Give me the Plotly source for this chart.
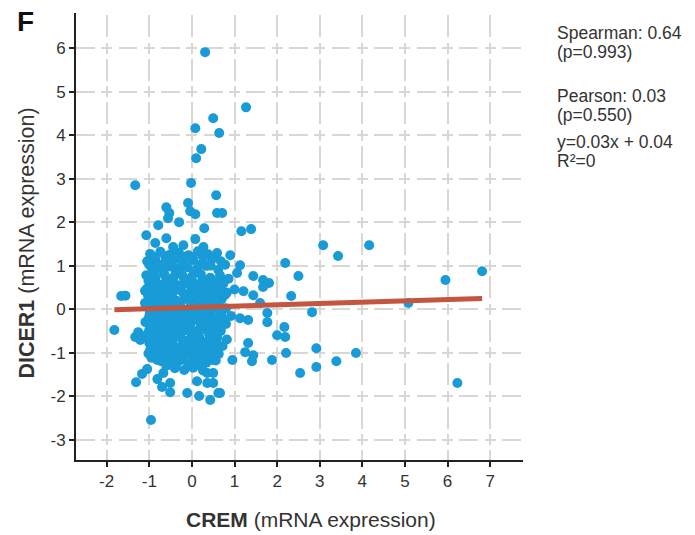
import plotly.graph_objects as go

# ---------------- data ----------------
# dense central cloud
cloud_crem = [
    -0.98, -0.74, -0.52, -0.31, -0.08, 0.14, 0.38,
    -1.05, -0.86, -0.63, -0.41, -0.19, 0.03, 0.26, 0.47, 0.68,
    -0.94, -0.72, -0.53, -0.30, -0.10, 0.12, 0.34, 0.62,
    -1.07, -0.85, -0.64, -0.43, -0.22, 0.00, 0.21, 0.43, 0.66, 0.86,
    -0.97, -0.76, -0.55, -0.33, -0.12, 0.10, 0.31, 0.52, 0.74,
    -1.10, -0.88, -0.66, -0.45, -0.24, -0.03, 0.19, 0.40, 0.60, 0.82, 1.00,
    -1.00, -0.79, -0.57, -0.36, -0.15, 0.07, 0.28, 0.49, 0.70,
    -1.08, -0.89, -0.68, -0.47, -0.26, -0.05, 0.16, 0.37, 0.58, 0.80,
    -0.99, -0.78, -0.57, -0.36, -0.15, 0.06, 0.27, 0.48, 0.69, 0.92,
    -1.09, -0.87, -0.66, -0.45, -0.24, -0.03, 0.18, 0.39, 0.60, 0.80,
    -1.00, -0.79, -0.58, -0.37, -0.16, 0.05, 0.26, 0.47, 0.68,
    -1.07, -0.88, -0.67, -0.46, -0.25, -0.04, 0.17, 0.38, 0.59, 0.82,
    -0.96, -0.76, -0.55, -0.34, -0.13, 0.08, 0.29, 0.50, 0.72,
    -1.02, -0.84, -0.63, -0.42, -0.21, 0.00, 0.21, 0.42, 0.63,
    -0.72, -0.51, -0.30, -0.09, 0.13, 0.34, 0.56,
    -0.40, -0.18, 0.03, 0.26,
    -0.92, -0.60, -0.38, -0.17, 0.05, 0.25,
    -0.83, -0.50, -0.29, -0.07, 0.14, 0.36,
    -0.93, -0.62, -0.40, -0.19, 0.02, 0.23,
    -0.82, -0.51, -0.30, -0.09, 0.12, 0.33,
    -0.93, -0.62, -0.41, -0.20, 0.01, 0.22,
    -0.70, -0.48, -0.27, 0.15,
    -0.88, -0.63, -0.42, -0.20, 0.02, 0.25, 0.52,
    -1.00, -0.80, -0.45, -0.22, 0.20, 0.44, 0.78,
    -1.02, -0.86, -0.44, 0.00, 0.40, 0.62,
    -1.05, -0.66, -0.46, 0.00, 0.26, 0.46, 0.66,
    -1.03, -0.70, -0.18, 0.10, 0.55, 0.78,
    -1.10, -0.72, -0.52, -0.30, 0.30, 0.52, 0.62,
    -0.98, -0.80, -0.35, 0.05, 0.45, 0.66,
    -1.02, -0.65, -0.45, -0.15, 0.30, 0.52, 0.72,
    -0.98, -0.72, -0.30, 0.20, 0.52,
    -1.05, -0.75, -0.50, -0.30, 0.12, 0.40, 0.60,
    -1.00, -0.80, -0.45, 0.05, 0.35, 0.55,
    -0.88, -0.60, -0.05, 0.35, 0.55,
    -0.95, -0.62, -0.40, -0.20, 0.05, 0.28,
    -0.60, -0.38, 0.15,
]
cloud_dicer1 = [
    1.27, 1.32, 1.25, 1.30, 1.24, 1.33, 1.26,
    1.10, 1.15, 1.08, 1.14, 1.09, 1.13, 1.07, 1.15, 1.10,
    0.95, 0.92, 0.98, 0.91, 0.96, 0.93, 0.99, 0.90,
    0.78, 0.74, 0.79, 0.73, 0.77, 0.75, 0.80, 0.72, 0.77, 0.70,
    0.60, 0.56, 0.61, 0.55, 0.59, 0.57, 0.62, 0.55, 0.59,
    0.42, 0.38, 0.43, 0.37, 0.41, 0.39, 0.44, 0.36, 0.41, 0.38, 0.45,
    0.24, 0.20, 0.25, 0.19, 0.23, 0.21, 0.26, 0.18, 0.23,
    0.06, 0.02, 0.07, 0.01, 0.05, 0.03, 0.08, 0.00, 0.05, 0.02,
    -0.12, -0.16, -0.11, -0.17, -0.13, -0.15, -0.10, -0.18, -0.13, -0.16,
    -0.30, -0.34, -0.29, -0.35, -0.31, -0.33, -0.28, -0.36, -0.31, -0.34,
    -0.48, -0.52, -0.47, -0.53, -0.49, -0.51, -0.46, -0.54, -0.50,
    -0.66, -0.70, -0.65, -0.71, -0.67, -0.69, -0.64, -0.72, -0.67, -0.70,
    -0.84, -0.88, -0.83, -0.89, -0.85, -0.87, -0.82, -0.90, -0.85,
    -1.02, -1.06, -1.01, -1.07, -1.03, -1.05, -1.00, -1.08, -1.03,
    -1.20, -1.24, -1.19, -1.25, -1.21, -1.23, -1.18,
    -1.36, -1.40, -1.35, -1.41,
    0.85, 0.68, 0.86, 0.67, 0.85, 0.68,
    0.49, 0.31, 0.49, 0.31, 0.50, 0.29,
    0.13, -0.05, 0.13, -0.06, 0.12, -0.04,
    -0.23, -0.41, -0.22, -0.42, -0.24, -0.41,
    -0.58, -0.77, -0.59, -0.76, -0.58, -0.77,
    -0.95, -0.94, -0.96, -0.94,
    1.20, 1.22, 1.18, 1.21, 1.19, 1.22, 1.20,
    1.02, 1.03, 1.01, 1.03, 1.02, 1.00, 1.02,
    0.66, 0.67, 0.65, 0.66, 0.67, 0.64,
    0.48, 0.49, 0.47, 0.48, 0.49, 0.47, 0.48,
    0.32, 0.31, 0.33, 0.32, 0.31, 0.33,
    0.14, 0.15, 0.13, 0.14, 0.15, 0.13, 0.14,
    -0.04, -0.03, -0.05, -0.04, -0.03, -0.05,
    -0.22, -0.21, -0.23, -0.22, -0.21, -0.23, -0.22,
    -0.42, -0.41, -0.43, -0.42, -0.41,
    -0.58, -0.59, -0.57, -0.58, -0.59, -0.57, -0.58,
    -0.78, -0.77, -0.79, -0.78, -0.77, -0.79,
    -0.95, -0.96, -0.94, -0.95, -0.96,
    -1.12, -1.13, -1.11, -1.12, -1.13, -1.11,
    -1.30, -1.31, -1.29,
]

# scattered samples around the cloud
spread_crem = [
    0.31, 1.27, 0.50, 0.08, 0.64, 0.22, 0.10,
    -1.33, -0.02, 0.57, -0.60, -0.53, -0.56, -0.09, -0.04, 0.08, -0.79, -0.30,
    0.29, 0.59, 0.71, 1.16, 1.39, -1.07, -0.60, 0.08,
    -0.86, -0.44, -0.20, 0.27, 0.59, 1.06, 0.90, 1.13,
    3.08, 3.43, 4.16, 2.19, 2.50, 2.33, 2.82, 5.08, 5.95, 6.81, 6.23,
    2.17, 2.00, 2.19, 2.92, 2.21, 3.85, 3.39, 2.92, 2.54, 1.88,
    1.44, 1.67, 1.81, 1.67, 1.21, 1.44, 1.60, 1.77, 1.77, 1.32, 1.13,
    1.32, 1.44, 1.41, 1.25, 0.95, 0.66,
    -1.66, -1.56, -1.82,
    -0.96, -1.31, -1.17, -1.05, -0.81, -0.67, -0.70, -0.51, -0.51,
    -0.11, 0.17, 0.12, -0.98, -0.81, 0.50, 0.50, 0.62, 0.43, 0.36,
    0.48, 0.55, 0.36, -1.33, -1.26, -1.21,
]
spread_dicer1 = [
    5.91, 4.64, 4.39, 4.16, 4.05, 3.68, 3.47,
    2.85, 2.90, 2.62, 2.34, 2.21, 2.09, 2.44, 2.25, 2.18, 1.93, 2.00,
    1.86, 2.21, 2.21, 1.79, 1.84, 1.70, 1.63, 1.61,
    1.52, 1.43, 1.47, 1.43, 1.29, 0.83, 1.24, 1.01,
    1.47, 1.22, 1.47, 1.06, 0.76, 0.30, -0.07, 0.14, 0.67, 0.87, -1.70,
    -0.41, -0.60, -0.64, -0.90, -1.01, -1.01, -1.20, -1.33, -1.47, -1.17,
    0.76, 0.67, 0.60, 0.51, 0.41, 0.32, 0.14, -0.09, -0.30, -0.25, -0.21,
    -0.78, -1.06, -1.20, -0.99, -1.17, -1.93,
    0.30, 0.31, -0.48,
    -2.55, -1.68, -1.49, -1.38, -1.61, -1.47, -1.79, -1.91, -1.70,
    -1.93, -2.00, -1.66, -0.94, -1.17, -1.47, -1.70, -1.93, -2.09, -1.47,
    -1.17, -1.06, -1.70, -0.64, -0.53, -0.71,
]

# linear fit and statistics
fit_slope = 0.03
fit_intercept = 0.04
stats_text = ["Spearman: 0.64", "(p=0.993)", "Pearson: 0.03", "(p=0.550)",
              "y=0.03x + 0.04", "R²=0"]
x_tick_values = [-2, -1, 0, 1, 2, 3, 4, 5, 6, 7]
y_tick_values = [-3, -2, -1, 0, 1, 2, 3, 4, 5, 6]

# ---------------- figure ----------------
all_x = cloud_crem + spread_crem
all_y = cloud_dicer1 + spread_dicer1
fit_x = [min(all_x), max(all_x)]
fit_y = [fit_slope * v + fit_intercept for v in fit_x]

FONT = "Liberation Sans, Arial, Helvetica, sans-serif"
BLUE = "#189bd7"
TEXT = "#333333"

fig = go.Figure()
fig.add_trace(go.Scatter(
    x=all_x, y=all_y, mode="markers",
    marker=dict(color=BLUE, size=10, line=dict(width=0)),
    showlegend=False, hoverinfo="x+y"))
fig.add_trace(go.Scatter(
    x=fit_x, y=fit_y, mode="lines",
    line=dict(color="#c4553f", width=5),
    showlegend=False, hoverinfo="skip"))

axis_common = dict(
    showline=True, linecolor="#222222", linewidth=2,
    ticks="outside", ticklen=5, tickwidth=2, tickcolor="#222222",
    showgrid=True, gridcolor="#dcd6d2", gridwidth=2,
    zeroline=False, mirror=False,
    tickfont=dict(family=FONT, size=17, color=TEXT),
)

fig.update_layout(
    width=695, height=535,
    margin=dict(l=76, r=172, t=13, b=75),
    paper_bgcolor="white", plot_bgcolor="white",
    font=dict(family=FONT, color=TEXT),
    xaxis=dict(range=[-2.72, 7.77], tickvals=x_tick_values,
               ticktext=[str(v) for v in x_tick_values],
               griddash="0px,2.25px,22px,5.25px,11px,3px", **axis_common),
    yaxis=dict(range=[-3.47, 6.81], tickvals=y_tick_values,
               ticktext=[str(v) for v in y_tick_values],
               griddash="18.8px,6.4px,11px,6.4px", **axis_common),
)

annotations = [
    dict(text="<b>F</b>", x=-0.114, y=0.98, font=dict(size=28, color="#111111")),
    dict(text="<b>CREM</b> (mRNA expression)", x=0.526, y=-0.134,
         font=dict(size=21, color=TEXT)),
    dict(text="<b>DICER1</b> (mRNA expression)", x=-0.11, y=0.486, textangle=-90,
         font=dict(size=21.5, color=TEXT)),
]
stat_centers = [0.9553, 0.9128, 0.8143, 0.7718, 0.7106, 0.6678]
for txt, yc in zip(stats_text, stat_centers):
    annotations.append(dict(text=txt, x=1.0716, y=yc, xanchor="left",
                            font=dict(size=17.5, color=TEXT)))
for a in annotations:
    a.setdefault("xanchor", "center")
    a.update(xref="paper", yref="paper", yanchor="middle", showarrow=False,
             font=dict(family=FONT, **a["font"]))
fig.update_layout(annotations=annotations)

fig.write_html(
    "out.html",
    config={"displayModeBar": False},
    post_script="document.body.style.margin='0px';"
                "document.documentElement.style.overflow='hidden';",
)
